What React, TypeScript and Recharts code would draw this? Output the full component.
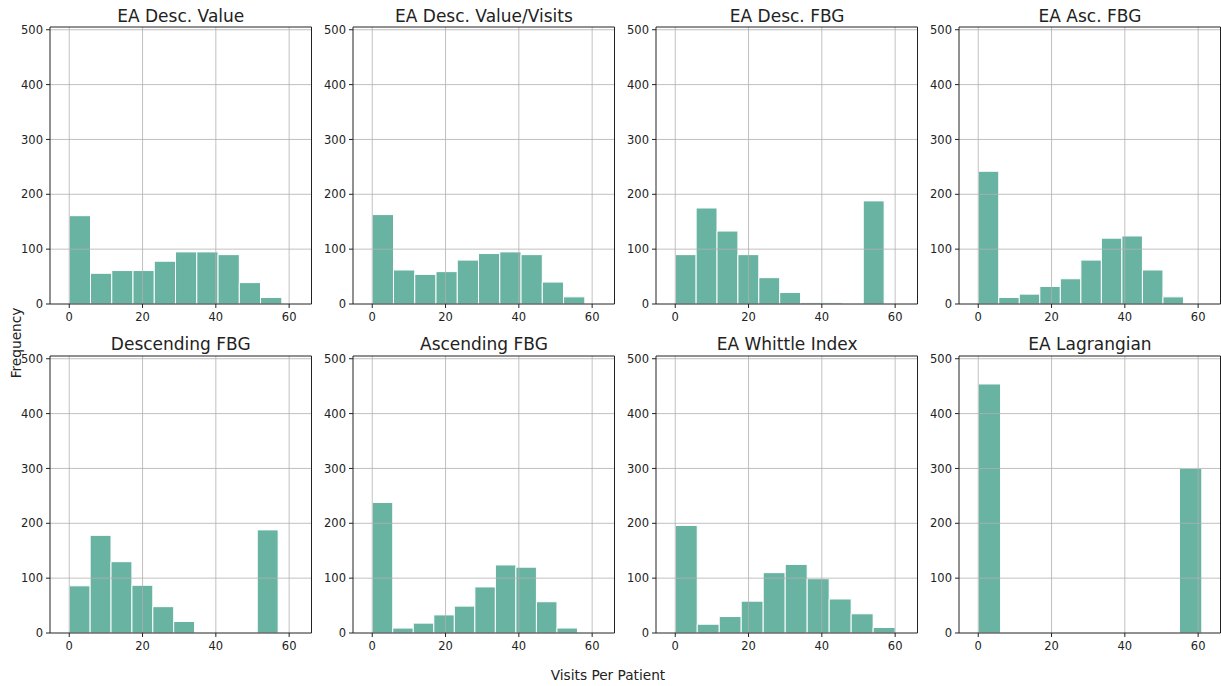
import React from 'react';
import { ComposedChart, XAxis, YAxis, ReferenceArea, ReferenceLine } from 'recharts';

// Histogram counts per strategy (10 equal-width bins from 0 to binMax)
const eaDescValue = [161, 56, 61, 61, 78, 95, 95, 90, 39, 12];
const eaDescValueVisits = [163, 62, 54, 59, 80, 92, 95, 90, 40, 13];
const eaDescFbg = [90, 175, 133, 90, 48, 21, 2, 2, 0, 188];
const eaAscFbg = [242, 12, 18, 32, 46, 80, 120, 124, 62, 13];
const descendingFbg = [86, 178, 130, 87, 48, 21, 1, 1, 0, 188];
const ascendingFbg = [238, 9, 18, 33, 49, 84, 124, 120, 57, 9];
const eaWhittleIndex = [196, 16, 30, 58, 110, 125, 99, 62, 35, 10];
const eaLagrangian = [454, 0, 0, 0, 0, 0, 0, 0, 0, 300];

const titles = [
  'EA Desc. Value',
  'EA Desc. Value/Visits',
  'EA Desc. FBG',
  'EA Asc. FBG',
  'Descending FBG',
  'Ascending FBG',
  'EA Whittle Index',
  'EA Lagrangian',
];
const seriesCounts = [
  eaDescValue,
  eaDescValueVisits,
  eaDescFbg,
  eaAscFbg,
  descendingFbg,
  ascendingFbg,
  eaWhittleIndex,
  eaLagrangian,
];
// Largest visits-per-patient value in each series (right edge of last bin)
const binMax = [58, 58, 57, 56, 57, 56, 60, 61];

const xTicks = [0, 20, 40, 60];
const yTicks = [0, 100, 200, 300, 400, 500];
const X_DOMAIN: [number, number] = [-5.25, 66.1];
const Y_DOMAIN: [number, number] = [0, 505];

const BAR_COLOR = '#69b3a2';
const GRID_COLOR = '#b0b0b0';
const INK = '#222222';
const FONT = "'DejaVu Sans', sans-serif";

// Plot-area layout
const PW = 261.5;
const PH = 277;
const colLefts = [50, 353.2, 656.4, 959.2];
const rowTops = [26.7, 355.6];
const Y_AXIS_W = 45;
const X_AXIS_H = 30;
const M_TOP = 5;
const M_RIGHT = 5;

type Bin = { x0: number; x1: number; count: number };

function Panel({ counts, max, left, top }: { counts: number[]; max: number; left: number; top: number }) {
  const n = counts.length;
  const bins: Bin[] = counts.map((c, i) => ({ x0: (i * max) / n, x1: ((i + 1) * max) / n, count: c }));
  return (
    <div style={{ position: 'absolute', left: left - Y_AXIS_W, top: top - M_TOP }}>
      <ComposedChart
        width={Y_AXIS_W + PW + M_RIGHT}
        height={M_TOP + PH + X_AXIS_H}
        data={bins}
        margin={{ top: M_TOP, right: M_RIGHT, bottom: 0, left: 0 }}
      >
        <XAxis
          type="number"
          dataKey="x0"
          domain={X_DOMAIN}
          ticks={xTicks}
          allowDataOverflow
          height={X_AXIS_H}
          tickSize={4}
          tickMargin={5}
          stroke={INK}
          tick={{ fill: INK, fontSize: 11.5 }}
        />
        <YAxis
          type="number"
          dataKey="count"
          domain={Y_DOMAIN}
          ticks={yTicks}
          allowDataOverflow
          width={Y_AXIS_W}
          tickSize={4}
          tickMargin={3}
          stroke={INK}
          tick={{ fill: INK, fontSize: 11.5 }}
        />
        {bins
          .filter((b) => b.count > 0)
          .map((b, i) => (
            <ReferenceArea
              key={'bar' + i}
              x1={b.x0}
              x2={b.x1}
              y1={0}
              y2={b.count}
              fill={BAR_COLOR}
              fillOpacity={1}
              stroke="#ffffff"
              strokeWidth={1}
              strokeOpacity={1}
            />
          ))}
        {xTicks.map((t) => (
          <ReferenceLine key={'gx' + t} x={t} stroke={GRID_COLOR} strokeWidth={0.8} />
        ))}
        {yTicks.slice(1).map((t) => (
          <ReferenceLine key={'gy' + t} y={t} stroke={GRID_COLOR} strokeWidth={0.8} />
        ))}
        <ReferenceLine x={X_DOMAIN[1]} stroke={INK} strokeWidth={1} />
        <ReferenceLine y={Y_DOMAIN[1]} stroke={INK} strokeWidth={1} />
      </ComposedChart>
    </div>
  );
}

export default function App() {
  return (
    <div
      style={{
        position: 'absolute',
        left: 0,
        top: 0,
        width: 1221,
        height: 686,
        background: '#ffffff',
        fontFamily: FONT,
        overflow: 'hidden',
      }}
    >
      {seriesCounts.map((counts, i) => (
        <Panel
          key={titles[i]}
          counts={counts}
          max={binMax[i]}
          left={colLefts[i % 4]}
          top={rowTops[Math.floor(i / 4)]}
        />
      ))}
      <svg
        width={1221}
        height={686}
        style={{ position: 'absolute', left: 0, top: 0, pointerEvents: 'none' }}
        fontFamily={FONT}
      >
        {titles.map((t, i) => (
          <text
            key={t}
            x={colLefts[i % 4] + PW / 2}
            y={i < 4 ? 21.6 : 350.4}
            textAnchor="middle"
            fontSize={17}
            fill={INK}
          >
            {t}
          </text>
        ))}
        <text x={20.5} y={343} textAnchor="middle" fontSize={13.7} fill={INK} transform="rotate(-90, 20.5, 343)">
          Frequency
        </text>
        <text x={608} y={680} textAnchor="middle" fontSize={13.7} fill={INK}>
          Visits Per Patient
        </text>
      </svg>
    </div>
  );
}
